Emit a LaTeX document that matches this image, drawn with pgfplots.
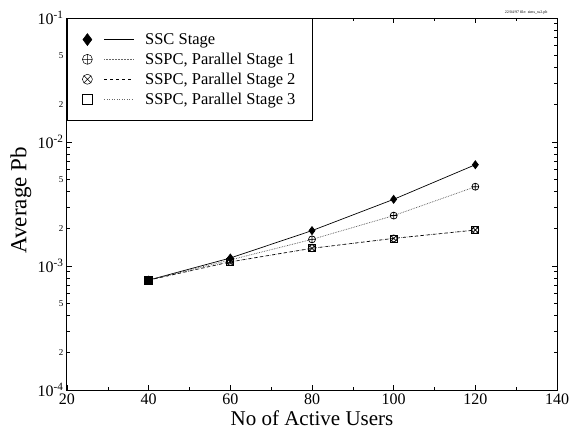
\documentclass[border=0pt]{standalone}
\usepackage{pgfplots}
\pgfplotsset{compat=1.18}
\usepackage{fontspec}
\setmainfont{Liberation Serif}
\begin{document}
\begin{tikzpicture}[x=1pt,y=1pt]
\useasboundingbox (-67,-39) rectangle (505,390);
\begin{axis}[
  at={(0,0)}, anchor=south west,
  scale only axis, width=490pt, height=372pt,
  xmin=20, xmax=140, ymin=1e-4, ymax=1e-1,
  ymode=log,
  xtick={20,40,60,80,100,120,140},
  minor x tick num=1,
  ytick={1e-4,1e-3,1e-2,1e-1},
  yticklabels={10\textsuperscript{-4},10\textsuperscript{-3},10\textsuperscript{-2},10\textsuperscript{-1}},
  extra y ticks={2e-4,5e-4,2e-3,5e-3,2e-2,5e-2},
  extra y tick labels={2,5,2,5,2,5},
  extra y tick style={tick label style={font=\fontsize{9}{10}\selectfont}, major tick length=3pt},
  /pgf/number format/assume math mode=true,
  tick label style={font=\fontsize{16}{18}\selectfont, black},
  xticklabel style={anchor=base, yshift=-14pt},
  axis line style={line width=1pt},
  tick style={black, line width=0.5pt},
  major tick length=5pt, minor tick length=3pt,
  xlabel={No of Active Users},
  ylabel={Average Pb},
  label style={font=\fontsize{21}{23}\selectfont},
  xlabel style={at={(axis description cs:0.5,0)}, anchor=base, yshift=-35pt},
  ylabel style={at={(axis description cs:-0.094,0.51)}, anchor=center, font=\fontsize{23}{25}\selectfont},
  legend cell align=left,
  legend style={at={(0,1)}, anchor=north west, draw=black, line width=0.8pt,
    font=\fontsize{16.5}{18}\selectfont, row sep=3pt, inner xsep=15pt, inner ysep=13pt},
  legend image code/.code={
    \draw[#1,mark=none,line width=0.6pt] (0.6cm,0cm) -- (1.65cm,0cm);
    \path (1.95cm,0cm);
    \draw[#1,solid] plot coordinates {(0cm,0cm)};
  },
]
\addplot[black, solid, line width=0.7pt, mark=diamond*, mark size=4pt, forget plot] coordinates {
  (40,7.7e-4) (60,1.16e-3) (80,1.93e-3) (100,3.45e-3) (120,6.56e-3)};
\addplot[black!70, densely dotted, line width=0.7pt, mark=oplus, mark size=3.5pt, mark options={solid,black}, forget plot] coordinates {
  (40,7.7e-4) (60,1.12e-3) (80,1.64e-3) (100,2.55e-3) (120,4.36e-3)};
\addplot[black, dashed, line width=0.7pt, mark=otimes, mark size=3.5pt, mark options={solid}, forget plot] coordinates {
  (40,7.7e-4) (60,1.08e-3) (80,1.39e-3) (100,1.67e-3) (120,1.95e-3)};
\addplot[black!70, dotted, line width=0.7pt, mark=square, mark size=3.5pt, mark options={solid,black}, forget plot] coordinates {
  (40,7.7e-4) (60,1.08e-3) (80,1.39e-3) (100,1.67e-3) (120,1.95e-3)};
\addplot[black, mark=square*, mark size=4pt, only marks, forget plot] coordinates {(40,7.7e-4)};
\addlegendimage{black, solid, line width=0.5pt, mark=diamond*, mark size=6pt}
\addlegendentry{SSC Stage}
\addlegendimage{black!60, densely dotted, line width=0.5pt, mark=oplus, mark size=5pt, mark options={solid,black}}
\addlegendentry{SSPC, Parallel Stage 1}
\addlegendimage{black, dashed, line width=0.5pt, mark=otimes, mark size=5pt, mark options={solid}}
\addlegendentry{SSPC, Parallel Stage 2}
\addlegendimage{black!60, dotted, line width=0.5pt, mark=square, mark size=5pt, mark options={solid,black}}
\addlegendentry{SSPC, Parallel Stage 3}
\end{axis}
\node[font=\fontsize{4}{5}\selectfont, anchor=south east] at (484,372) {22/04/97 file: sims\_ss2.plt};
\end{tikzpicture}
\end{document}
